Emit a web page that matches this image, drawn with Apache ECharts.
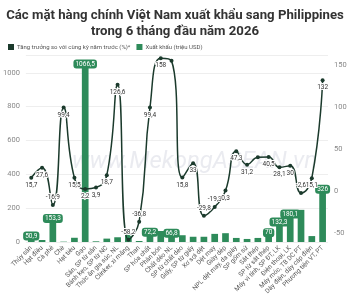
<!DOCTYPE html>
<html>
<head>
<meta charset="utf-8">
<script src="https://cdn.jsdelivr.net/npm/echarts@6/dist/echarts.min.js"></script>
<style>
  html, body { margin: 0; padding: 0; background: #fff; }
  #chart { width: 350px; height: 300px; }
</style>
</head>
<body>
<div id="chart"></div>
<script>
// mat hang
const categories = [
  'Thủy sản', 'Hạt điều', 'Cà phê', 'Chè', 'Hạt tiêu', 'Gạo', 'Sắn, SP từ sắn',
  'Bánh kẹo, SP từ NC', 'Thức ăn gia súc, NL', 'Clinker, xi măng', 'Than',
  'SP hóa chất', 'Phân bón', 'Chất dẻo NL', 'SP từ chất dẻo', 'Giấy, SP từ giấy',
  'Xơ sợi dệt', 'Dệt may', 'Giày dép', 'NPL dệt may, da giày', 'SP gốm sứ',
  'Sắt thép', 'SP từ sắt thép', 'Máy vi tính, SP ĐT, LK', 'Điện thoại, LK',
  'Máy móc, TB DC PT', 'Dây điện, dây cáp điện', 'Phương tiện VT, PT'
];
// xuat khau (trieu USD)
const exportValues = [
  50.9, 12, 153.3, 2, 25, 1066.5, 4, 20, 28, 45, 6,
  72.2, 65, 66.8, 40, 31, 31, 48, 52, 24, 18,
  24, 70, 132.3, 180.1, 190, 35, 326
];
// tang truong (%)
const growthValues = [
  15.7, 27.6, -16.9, 99.4, 15.5, 2.2, 3.9, 18.7, 126.6, -58.2, -36.8,
  99.4, 158, 155, 15.8, 33, -29.8, -19.3, 0.3, 47.3, 31.2,
  40, 40.5, 28.1, 30, -2.6, 15.1, 132
];
const barLabelShown = [0, 2, 5, 11, 13, 22, 23, 24, 27];
const lineLabelHidden = [13, 21];

const fmt = (v) => String(v).replace('.', ',');

const myChart = echarts.init(document.getElementById('chart'));

const barData = exportValues.map((v, i) => ({
  value: v,
  label: { show: barLabelShown.indexOf(i) != -1 }
}));
const lineData = growthValues.map((v, i) => ({
  value: v,
  label: {
    show: lineLabelHidden.indexOf(i) == -1,
    position: v < 0 ? 'top' : 'bottom'
  }
}));

myChart.setOption({
  backgroundColor: '#fff',
  textStyle: { fontFamily: 'Roboto' },
  title: {
    text: 'Các mặt hàng chính Việt Nam xuất khẩu sang Philippines\ntrong 6 tháng đầu năm 2026',
    left: 'center',
    top: 3,
    textStyle: { fontSize: 13.2, fontWeight: 'bold', color: '#333', lineHeight: 16, fontFamily: 'Roboto' }
  },
  legend: {
    left: 3,
    top: 39,
    itemWidth: 6,
    itemHeight: 6,
    itemGap: 6,
    icon: 'rect',
    textStyle: { fontSize: 6, color: '#555', padding: [0, 0, 0, -2] },
    data: ['Tăng trưởng so với cùng kỳ năm trước (%)*', 'Xuất khẩu (triệu USD)']
  },
  graphic: [{
    type: 'text',
    left: 72,
    top: 150,
    z: -1,
    style: {
      text: 'www.MekongASEAN.vn',
      font: 'italic 24px Roboto',
      fill: 'rgba(160,165,185,0.22)'
    }
  }],
  grid: { left: 25, right: 22, top: 55, bottom: 58 },
  xAxis: {
    type: 'category',
    data: categories,
    axisLine: { show: false },
    axisTick: { show: false },
    axisLabel: { interval: 0, rotate: 45, fontSize: 6.5, color: '#555', margin: 5 }
  },
  yAxis: [{
    type: 'value',
    min: 0,
    max: 1105,
    splitNumber: 5,
    axisLabel: { fontSize: 7.5, color: '#888', showMaxLabel: false, margin: 6, formatter: (v) => String(v) },
    splitLine: { lineStyle: { color: '#eee' } },
    axisLine: { show: false },
    axisTick: { show: false }
  }, {
    type: 'value',
    min: -61,
    max: 162,
    splitNumber: 5,
    axisLabel: { fontSize: 7.5, color: '#888', showMaxLabel: false, showMinLabel: false, margin: 6 },
    splitLine: { show: false },
    axisLine: { show: false },
    axisTick: { show: false }
  }],
  series: [{
    name: 'Tăng trưởng so với cùng kỳ năm trước (%)*',
    type: 'line',
    yAxisIndex: 1,
    smooth: true,
    data: lineData,
    z: 5,
    symbol: 'circle',
    symbolSize: 4,
    color: '#1b3a2c',
    lineStyle: { width: 1.5, color: '#1b3a2c' },
    label: {
      fontSize: 6.5,
      color: '#333',
      distance: 2,
      textBorderColor: '#fff',
      textBorderWidth: 2,
      formatter: (p) => fmt(p.value)
    }
  }, {
    name: 'Xuất khẩu (triệu USD)',
    type: 'bar',
    yAxisIndex: 0,
    data: barData,
    barWidth: '62%',
    color: '#2e8b5a',
    label: {
      position: 'top',
      distance: -7,
      fontSize: 6.5,
      color: '#fff',
      backgroundColor: '#2e8b5a',
      borderRadius: 3,
      padding: [1, 2],
      formatter: (p) => fmt(p.value)
    }
  }]
});
</script>
</body>
</html>
